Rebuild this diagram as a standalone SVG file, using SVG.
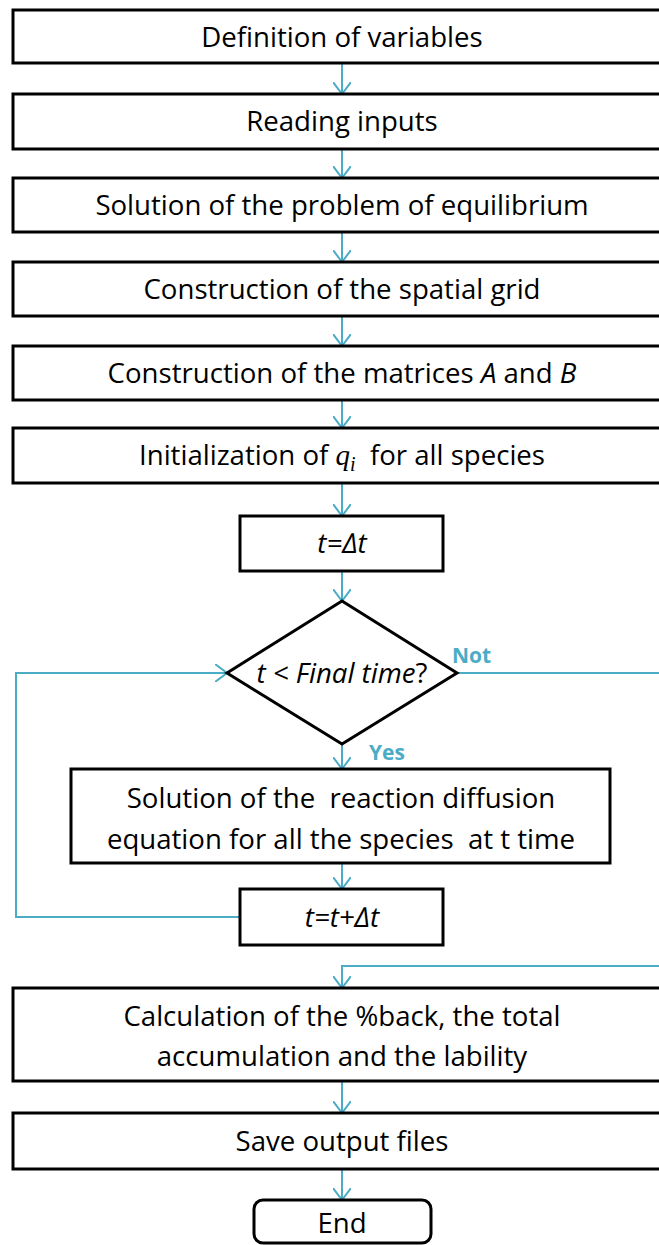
<svg xmlns="http://www.w3.org/2000/svg" width="659" height="1245" viewBox="0 0 659 1245">
<style>
.box{fill:#fff;stroke:#000;stroke-width:3}
.t{font-family:"Open Sans","Liberation Sans",sans-serif;font-size:27.6px;fill:#000;text-anchor:middle;white-space:pre}
.i{font-style:italic}
.c{fill:none;stroke:#4BACC6;stroke-width:2}
.lbl{font-family:"Open Sans","Liberation Sans",sans-serif;font-size:21px;font-weight:bold;fill:#4BACC6}
.m{font-family:"Liberation Serif",serif;font-style:italic}
</style>
<defs>
<marker id="ah" viewBox="0 0 13 18" refX="12" refY="9" markerWidth="13" markerHeight="18" markerUnits="userSpaceOnUse" orient="auto">
<path d="M0,0 L12,9 L0,18" fill="none" stroke="#4BACC6" stroke-width="2"/>
</marker>
</defs>
<g id="connectors" class="c">
<line x1="342" y1="63" x2="342" y2="94" marker-end="url(#ah)"/>
<line x1="342" y1="149" x2="342" y2="178" marker-end="url(#ah)"/>
<line x1="342" y1="232" x2="342" y2="262" marker-end="url(#ah)"/>
<line x1="342" y1="316" x2="342" y2="346" marker-end="url(#ah)"/>
<line x1="342" y1="400" x2="342" y2="428" marker-end="url(#ah)"/>
<line x1="342" y1="483" x2="342" y2="516" marker-end="url(#ah)"/>
<line x1="342" y1="571" x2="342" y2="601" marker-end="url(#ah)"/>
<line x1="342" y1="744" x2="342" y2="769" marker-end="url(#ah)"/>
<line x1="342" y1="863" x2="342" y2="889" marker-end="url(#ah)"/>
<polyline points="240,917 16,917 16,673 227,673" marker-end="url(#ah)"/>
<polyline points="457,673 672,673 672,966 342,966 342,988" marker-end="url(#ah)"/>
<line x1="342" y1="1081" x2="342" y2="1113" marker-end="url(#ah)"/>
<line x1="342" y1="1169" x2="342" y2="1200" marker-end="url(#ah)"/>
</g>
<g id="n1"><rect class="box" x="13" y="10" width="658" height="53"/><text class="t" x="342" y="47">Definition of variables</text></g>
<g id="n2"><rect class="box" x="13" y="94" width="658" height="55"/><text class="t" x="342" y="131">Reading inputs</text></g>
<g id="n3"><rect class="box" x="13" y="178" width="658" height="54"/><text class="t" x="342" y="215">Solution of the problem of equilibrium</text></g>
<g id="n4"><rect class="box" x="13" y="262" width="658" height="54"/><text class="t" x="342" y="299">Construction of the spatial grid</text></g>
<g id="n5"><rect class="box" x="13" y="346" width="658" height="54"/><text class="t" x="342" y="383">Construction of the matrices <tspan class="i">A</tspan> and <tspan class="i">B</tspan></text></g>
<g id="n6"><rect class="box" x="13" y="428" width="658" height="55"/><text class="t" x="342" y="465">Initialization of <tspan class="m" font-size="29">q</tspan><tspan class="m" font-size="20" dy="6">i</tspan><tspan dy="-6">  for all species</tspan></text></g>
<g id="n7"><rect class="box" x="240" y="516" width="203" height="55"/><text class="t i" x="342" y="553">t=∆t</text></g>
<g id="n8"><polygon class="box" points="342,601 457,673 342,744 227,673"/><text class="t" x="342" y="683"><tspan class="i">t &lt; Final time</tspan>?</text></g>
<g id="n9"><rect class="box" x="71" y="769" width="539" height="94"/><text class="t" x="341" y="808">Solution of the  reaction diffusion</text><text class="t" x="341" y="849">equation for all the species  at t time</text></g>
<g id="n10"><rect class="box" x="240" y="889" width="203" height="56"/><text class="t i" x="342" y="927">t=t+∆t</text></g>
<g id="n11"><rect class="box" x="13" y="988" width="658" height="93"/><text class="t" x="342" y="1026">Calculation of the %back, the total</text><text class="t" x="342" y="1066">accumulation and the lability</text></g>
<g id="n12"><rect class="box" x="13" y="1113" width="658" height="56"/><text class="t" x="342" y="1151">Save output files</text></g>
<g id="n13"><rect class="box" x="254" y="1200" width="177" height="43" rx="9"/><text class="t" x="342" y="1233">End</text></g>
<g id="labels"><text class="lbl" x="452" y="663">Not</text><text class="lbl" x="369" y="760">Yes</text></g>
</svg>
